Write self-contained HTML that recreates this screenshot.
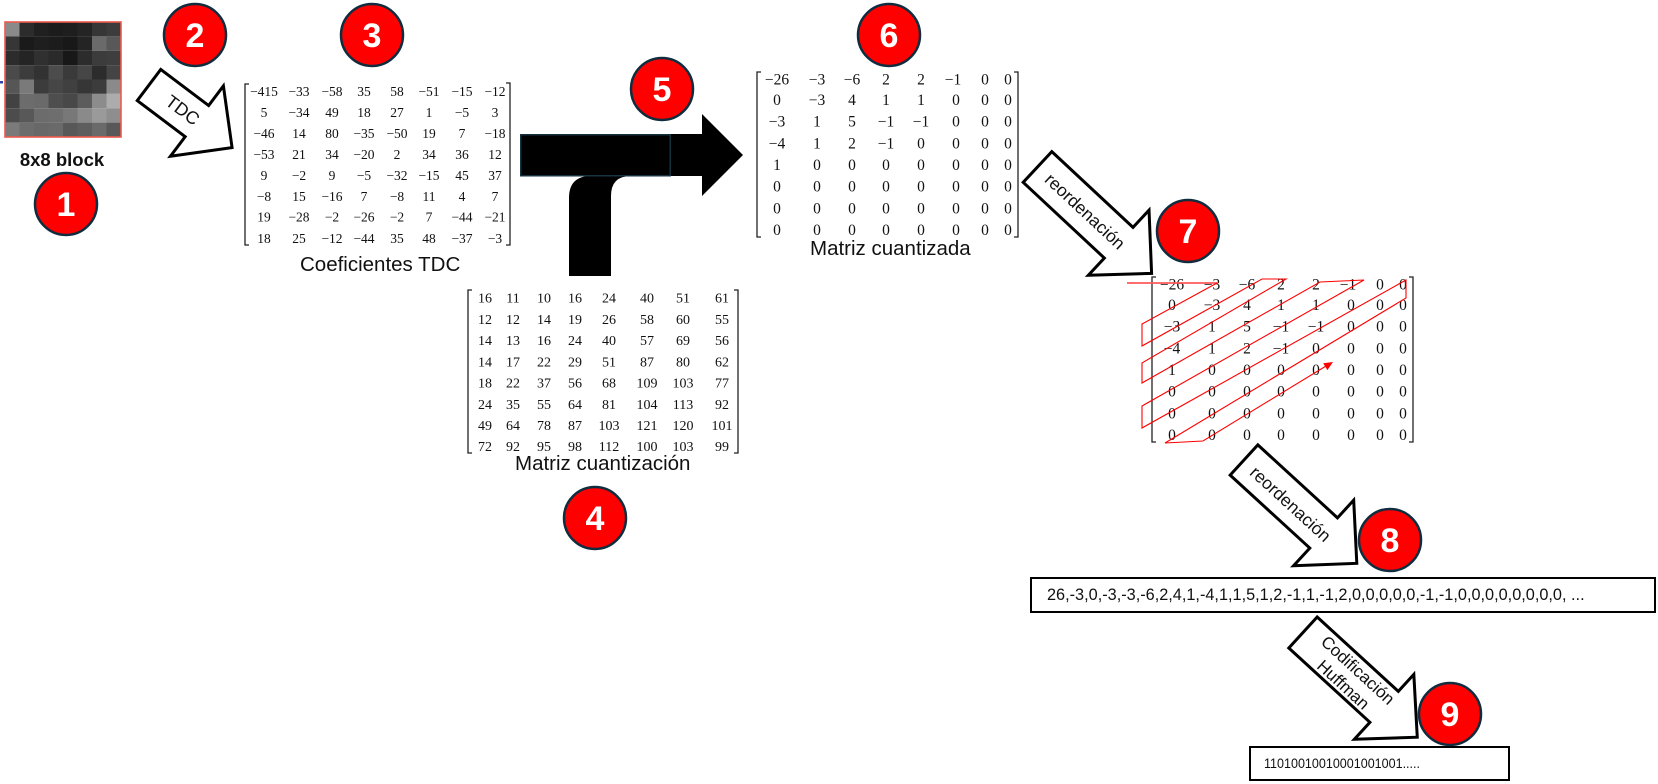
<!DOCTYPE html>
<html>
<head>
<meta charset="utf-8">
<style>
html,body{margin:0;padding:0;background:#fff;}
svg{display:block;}
.ser{font-family:"Liberation Serif",serif;fill:#111;}
.san{font-family:"Liberation Sans",sans-serif;fill:#111;}
.num{font-family:"Liberation Sans",sans-serif;font-weight:bold;fill:#fff;font-size:34px;}
</style>
</head>
<body>
<svg width="1658" height="784" viewBox="0 0 1658 784" xmlns="http://www.w3.org/2000/svg">
<rect width="1658" height="784" fill="#fff"/>

<!-- 8x8 block -->
<g>
<rect x="0" y="81" width="3" height="2.5" fill="#2a45a8"/>
<g transform="translate(5,22) scale(14.5,14.375)">
<rect x="0" y="0" width="1" height="1" fill="#8a8a8a"/><rect x="1" y="0" width="1" height="1" fill="#2c2c2c"/><rect x="2" y="0" width="1" height="1" fill="#202020"/><rect x="3" y="0" width="1" height="1" fill="#1c1c1c"/><rect x="4" y="0" width="1" height="1" fill="#1e1e1e"/><rect x="5" y="0" width="1" height="1" fill="#242424"/><rect x="6" y="0" width="1" height="1" fill="#363636"/><rect x="7" y="0" width="1" height="1" fill="#3c3c3c"/>
<rect x="0" y="1" width="1" height="1" fill="#363636"/><rect x="1" y="1" width="1" height="1" fill="#1a1a1a"/><rect x="2" y="1" width="1" height="1" fill="#1e1e1e"/><rect x="3" y="1" width="1" height="1" fill="#1c1c1c"/><rect x="4" y="1" width="1" height="1" fill="#181818"/><rect x="5" y="1" width="1" height="1" fill="#242424"/><rect x="6" y="1" width="1" height="1" fill="#6a6a6a"/><rect x="7" y="1" width="1" height="1" fill="#585858"/>
<rect x="0" y="2" width="1" height="1" fill="#2c2c2c"/><rect x="1" y="2" width="1" height="1" fill="#242424"/><rect x="2" y="2" width="1" height="1" fill="#303030"/><rect x="3" y="2" width="1" height="1" fill="#2a2a2a"/><rect x="4" y="2" width="1" height="1" fill="#181818"/><rect x="5" y="2" width="1" height="1" fill="#2c2c2c"/><rect x="6" y="2" width="1" height="1" fill="#3c3c3c"/><rect x="7" y="2" width="1" height="1" fill="#3e3e3e"/>
<rect x="0" y="3" width="1" height="1" fill="#4a4a4a"/><rect x="1" y="3" width="1" height="1" fill="#3c3c3c"/><rect x="2" y="3" width="1" height="1" fill="#323232"/><rect x="3" y="3" width="1" height="1" fill="#4c4c4c"/><rect x="4" y="3" width="1" height="1" fill="#3a3a3a"/><rect x="5" y="3" width="1" height="1" fill="#464646"/><rect x="6" y="3" width="1" height="1" fill="#2c2c2c"/><rect x="7" y="3" width="1" height="1" fill="#444444"/>
<rect x="0" y="4" width="1" height="1" fill="#565656"/><rect x="1" y="4" width="1" height="1" fill="#7a7a7a"/><rect x="2" y="4" width="1" height="1" fill="#3c3c3c"/><rect x="3" y="4" width="1" height="1" fill="#464646"/><rect x="4" y="4" width="1" height="1" fill="#404040"/><rect x="5" y="4" width="1" height="1" fill="#363636"/><rect x="6" y="4" width="1" height="1" fill="#3c3c3c"/><rect x="7" y="4" width="1" height="1" fill="#8a8a8a"/>
<rect x="0" y="5" width="1" height="1" fill="#424242"/><rect x="1" y="5" width="1" height="1" fill="#6c6c6c"/><rect x="2" y="5" width="1" height="1" fill="#6a6a6a"/><rect x="3" y="5" width="1" height="1" fill="#4e4e4e"/><rect x="4" y="5" width="1" height="1" fill="#484848"/><rect x="5" y="5" width="1" height="1" fill="#5c5c5c"/><rect x="6" y="5" width="1" height="1" fill="#8c8c8c"/><rect x="7" y="5" width="1" height="1" fill="#acacac"/>
<rect x="0" y="6" width="1" height="1" fill="#4c4c4c"/><rect x="1" y="6" width="1" height="1" fill="#585858"/><rect x="2" y="6" width="1" height="1" fill="#6c6c6c"/><rect x="3" y="6" width="1" height="1" fill="#6e6e6e"/><rect x="4" y="6" width="1" height="1" fill="#787878"/><rect x="5" y="6" width="1" height="1" fill="#8a8a8a"/><rect x="6" y="6" width="1" height="1" fill="#9a9a9a"/><rect x="7" y="6" width="1" height="1" fill="#8e8e8e"/>
<rect x="0" y="7" width="1" height="1" fill="#7a7a7a"/><rect x="1" y="7" width="1" height="1" fill="#6c6c6c"/><rect x="2" y="7" width="1" height="1" fill="#686868"/><rect x="3" y="7" width="1" height="1" fill="#6a6a6a"/><rect x="4" y="7" width="1" height="1" fill="#585858"/><rect x="5" y="7" width="1" height="1" fill="#5e5e5e"/><rect x="6" y="7" width="1" height="1" fill="#6a6a6a"/><rect x="7" y="7" width="1" height="1" fill="#585858"/>
</g>
<rect x="5" y="22" width="116" height="115" fill="none" stroke="#ec5a4c" stroke-width="1.6"/>
<text class="san" x="62" y="166" font-size="18.5" font-weight="bold" text-anchor="middle">8x8 block</text>
</g>

<!-- TDC arrow -->
<g transform="translate(149,85) rotate(37)">
<polygon points="0,-19.5 60,-19.5 60,-44 104,0 60,44 60,19.5 0,19.5" fill="#fff" stroke="#000" stroke-width="3" stroke-linejoin="miter"/>
<text class="san" x="42" y="6" font-size="18" text-anchor="middle">TDC</text>
</g>

<!-- Matrix 3: Coeficientes TDC -->
<g fill="none" stroke="#222" stroke-width="1.3">
<path d="M249,84 L245,84 L245,245 L249,245"/>
<path d="M506,83 L510,83 L510,245 L506,245"/>
</g>
<g class="ser" font-size="13.5" text-anchor="middle">
<text y="96.2"><tspan x="264">−415</tspan><tspan x="299">−33</tspan><tspan x="332">−58</tspan><tspan x="364">35</tspan><tspan x="397">58</tspan><tspan x="429">−51</tspan><tspan x="462">−15</tspan><tspan x="495">−12</tspan></text>
<text y="116.8"><tspan x="264">5</tspan><tspan x="299">−34</tspan><tspan x="332">49</tspan><tspan x="364">18</tspan><tspan x="397">27</tspan><tspan x="429">1</tspan><tspan x="462">−5</tspan><tspan x="495">3</tspan></text>
<text y="137.8"><tspan x="264">−46</tspan><tspan x="299">14</tspan><tspan x="332">80</tspan><tspan x="364">−35</tspan><tspan x="397">−50</tspan><tspan x="429">19</tspan><tspan x="462">7</tspan><tspan x="495">−18</tspan></text>
<text y="158.8"><tspan x="264">−53</tspan><tspan x="299">21</tspan><tspan x="332">34</tspan><tspan x="364">−20</tspan><tspan x="397">2</tspan><tspan x="429">34</tspan><tspan x="462">36</tspan><tspan x="495">12</tspan></text>
<text y="180.2"><tspan x="264">9</tspan><tspan x="299">−2</tspan><tspan x="332">9</tspan><tspan x="364">−5</tspan><tspan x="397">−32</tspan><tspan x="429">−15</tspan><tspan x="462">45</tspan><tspan x="495">37</tspan></text>
<text y="200.8"><tspan x="264">−8</tspan><tspan x="299">15</tspan><tspan x="332">−16</tspan><tspan x="364">7</tspan><tspan x="397">−8</tspan><tspan x="429">11</tspan><tspan x="462">4</tspan><tspan x="495">7</tspan></text>
<text y="221.5"><tspan x="264">19</tspan><tspan x="299">−28</tspan><tspan x="332">−2</tspan><tspan x="364">−26</tspan><tspan x="397">−2</tspan><tspan x="429">7</tspan><tspan x="462">−44</tspan><tspan x="495">−21</tspan></text>
<text y="242.8"><tspan x="264">18</tspan><tspan x="299">25</tspan><tspan x="332">−12</tspan><tspan x="364">−44</tspan><tspan x="397">35</tspan><tspan x="429">48</tspan><tspan x="462">−37</tspan><tspan x="495">−3</tspan></text>
</g>
<text class="san" x="300" y="271" font-size="20.5">Coeficientes TDC</text>

<!-- Matrix 4: Matriz cuantización -->
<g fill="none" stroke="#222" stroke-width="1.3">
<path d="M472,290 L468,290 L468,453 L472,453"/>
<path d="M734,290 L738,290 L738,453 L734,453"/>
</g>
<g class="ser" font-size="14" text-anchor="middle">
<text y="302.3"><tspan x="485">16</tspan><tspan x="513">11</tspan><tspan x="544">10</tspan><tspan x="575">16</tspan><tspan x="609">24</tspan><tspan x="647">40</tspan><tspan x="683">51</tspan><tspan x="722">61</tspan></text>
<text y="324"><tspan x="485">12</tspan><tspan x="513">12</tspan><tspan x="544">14</tspan><tspan x="575">19</tspan><tspan x="609">26</tspan><tspan x="647">58</tspan><tspan x="683">60</tspan><tspan x="722">55</tspan></text>
<text y="345"><tspan x="485">14</tspan><tspan x="513">13</tspan><tspan x="544">16</tspan><tspan x="575">24</tspan><tspan x="609">40</tspan><tspan x="647">57</tspan><tspan x="683">69</tspan><tspan x="722">56</tspan></text>
<text y="366.7"><tspan x="485">14</tspan><tspan x="513">17</tspan><tspan x="544">22</tspan><tspan x="575">29</tspan><tspan x="609">51</tspan><tspan x="647">87</tspan><tspan x="683">80</tspan><tspan x="722">62</tspan></text>
<text y="387.7"><tspan x="485">18</tspan><tspan x="513">22</tspan><tspan x="544">37</tspan><tspan x="575">56</tspan><tspan x="609">68</tspan><tspan x="647">109</tspan><tspan x="683">103</tspan><tspan x="722">77</tspan></text>
<text y="409"><tspan x="485">24</tspan><tspan x="513">35</tspan><tspan x="544">55</tspan><tspan x="575">64</tspan><tspan x="609">81</tspan><tspan x="647">104</tspan><tspan x="683">113</tspan><tspan x="722">92</tspan></text>
<text y="430"><tspan x="485">49</tspan><tspan x="513">64</tspan><tspan x="544">78</tspan><tspan x="575">87</tspan><tspan x="609">103</tspan><tspan x="647">121</tspan><tspan x="683">120</tspan><tspan x="722">101</tspan></text>
<text y="451"><tspan x="485">72</tspan><tspan x="513">92</tspan><tspan x="544">95</tspan><tspan x="575">98</tspan><tspan x="609">112</tspan><tspan x="647">100</tspan><tspan x="683">103</tspan><tspan x="722">99</tspan></text>
</g>
<text class="san" x="515" y="470" font-size="20.5">Matriz cuantización</text>

<!-- Black T arrow (5) -->
<g fill="#000">
<rect x="520" y="134" width="183" height="42"/>
<polygon points="702,114 743,155 702,196"/>
<path d="M569,276 L569,198 Q569,176 591,176 L631,176 Q611,176 611,196 L611,276 Z"/>
</g>
<rect x="520.75" y="134.75" width="149.5" height="41" fill="#000" stroke="#17323f" stroke-width="1.5"/>

<!-- Matrix 6: Matriz cuantizada -->
<g fill="none" stroke="#222" stroke-width="1.3">
<path d="M761,72 L757,72 L757,237 L761,237"/>
<path d="M1014,72 L1018,72 L1018,237 L1014,237"/>
</g>
<g class="ser" font-size="15.5" text-anchor="middle">
<text y="84.3"><tspan x="777">−26</tspan><tspan x="817">−3</tspan><tspan x="852">−6</tspan><tspan x="886">2</tspan><tspan x="921">2</tspan><tspan x="953">−1</tspan><tspan x="985">0</tspan><tspan x="1008">0</tspan></text>
<text y="105"><tspan x="777">0</tspan><tspan x="817">−3</tspan><tspan x="852">4</tspan><tspan x="886">1</tspan><tspan x="921">1</tspan><tspan x="956">0</tspan><tspan x="985">0</tspan><tspan x="1008">0</tspan></text>
<text y="126.7"><tspan x="777">−3</tspan><tspan x="817">1</tspan><tspan x="852">5</tspan><tspan x="886">−1</tspan><tspan x="921">−1</tspan><tspan x="956">0</tspan><tspan x="985">0</tspan><tspan x="1008">0</tspan></text>
<text y="148.3"><tspan x="777">−4</tspan><tspan x="817">1</tspan><tspan x="852">2</tspan><tspan x="886">−1</tspan><tspan x="921">0</tspan><tspan x="956">0</tspan><tspan x="985">0</tspan><tspan x="1008">0</tspan></text>
<text y="170"><tspan x="777">1</tspan><tspan x="817">0</tspan><tspan x="852">0</tspan><tspan x="886">0</tspan><tspan x="921">0</tspan><tspan x="956">0</tspan><tspan x="985">0</tspan><tspan x="1008">0</tspan></text>
<text y="191.7"><tspan x="777">0</tspan><tspan x="817">0</tspan><tspan x="852">0</tspan><tspan x="886">0</tspan><tspan x="921">0</tspan><tspan x="956">0</tspan><tspan x="985">0</tspan><tspan x="1008">0</tspan></text>
<text y="213.3"><tspan x="777">0</tspan><tspan x="817">0</tspan><tspan x="852">0</tspan><tspan x="886">0</tspan><tspan x="921">0</tspan><tspan x="956">0</tspan><tspan x="985">0</tspan><tspan x="1008">0</tspan></text>
<text y="235"><tspan x="777">0</tspan><tspan x="817">0</tspan><tspan x="852">0</tspan><tspan x="886">0</tspan><tspan x="921">0</tspan><tspan x="956">0</tspan><tspan x="985">0</tspan><tspan x="1008">0</tspan></text>
</g>
<text class="san" x="810" y="255" font-size="20.5">Matriz cuantizada</text>

<!-- reordenación arrow 1 -->
<g transform="translate(1037.5,167) rotate(43)">
<polygon points="0,-21 111,-21 111,-44.5 156,0 111,44.5 111,21 0,21" fill="#fff" stroke="#000" stroke-width="3" stroke-linejoin="miter"/>
<text class="san" x="65" y="6" font-size="17.5" text-anchor="middle">reordenación</text>
</g>

<!-- Matrix 7 (zigzag) -->
<g transform="translate(395,205)">
<g fill="none" stroke="#222" stroke-width="1.3">
<path d="M761,72 L757,72 L757,237 L761,237"/>
<path d="M1014,72 L1018,72 L1018,237 L1014,237"/>
</g>
<g class="ser" font-size="15.5" text-anchor="middle">
<text y="84.3"><tspan x="777">−26</tspan><tspan x="817">−3</tspan><tspan x="852">−6</tspan><tspan x="886">2</tspan><tspan x="921">2</tspan><tspan x="953">−1</tspan><tspan x="985">0</tspan><tspan x="1008">0</tspan></text>
<text y="105"><tspan x="777">0</tspan><tspan x="817">−3</tspan><tspan x="852">4</tspan><tspan x="886">1</tspan><tspan x="921">1</tspan><tspan x="956">0</tspan><tspan x="985">0</tspan><tspan x="1008">0</tspan></text>
<text y="126.7"><tspan x="777">−3</tspan><tspan x="817">1</tspan><tspan x="852">5</tspan><tspan x="886">−1</tspan><tspan x="921">−1</tspan><tspan x="956">0</tspan><tspan x="985">0</tspan><tspan x="1008">0</tspan></text>
<text y="148.3"><tspan x="777">−4</tspan><tspan x="817">1</tspan><tspan x="852">2</tspan><tspan x="886">−1</tspan><tspan x="921">0</tspan><tspan x="956">0</tspan><tspan x="985">0</tspan><tspan x="1008">0</tspan></text>
<text y="170"><tspan x="777">1</tspan><tspan x="817">0</tspan><tspan x="852">0</tspan><tspan x="886">0</tspan><tspan x="921">0</tspan><tspan x="956">0</tspan><tspan x="985">0</tspan><tspan x="1008">0</tspan></text>
<text y="191.7"><tspan x="777">0</tspan><tspan x="817">0</tspan><tspan x="852">0</tspan><tspan x="886">0</tspan><tspan x="921">0</tspan><tspan x="956">0</tspan><tspan x="985">0</tspan><tspan x="1008">0</tspan></text>
<text y="213.3"><tspan x="777">0</tspan><tspan x="817">0</tspan><tspan x="852">0</tspan><tspan x="886">0</tspan><tspan x="921">0</tspan><tspan x="956">0</tspan><tspan x="985">0</tspan><tspan x="1008">0</tspan></text>
<text y="235"><tspan x="777">0</tspan><tspan x="817">0</tspan><tspan x="852">0</tspan><tspan x="886">0</tspan><tspan x="921">0</tspan><tspan x="956">0</tspan><tspan x="985">0</tspan><tspan x="1008">0</tspan></text>
</g>
</g>
<line x1="1127" y1="283" x2="1217" y2="283" stroke="#f55" stroke-width="2" opacity="0.85"/>
<path d="M1217,283 L1142,324 L1142,346 L1262,279 L1286,279 L1142,363 L1142,383 L1320,282 L1364,280 L1142,406 L1142,428 L1406,280 L1406,298 L1165,443 L1203,441 L1326,366" fill="none" stroke="#f00" stroke-width="1.1" stroke-linejoin="miter"/>
<polygon points="1333,362 1327.4,370.1 1323.2,363.3" fill="#f00"/>

<!-- reordenación arrow 2 -->
<g transform="translate(1244,460) rotate(42.5)">
<polygon points="0,-20.5 108,-20.5 108,-44.5 153,0 108,44.5 108,20.5 0,20.5" fill="#fff" stroke="#000" stroke-width="3" stroke-linejoin="miter"/>
<text class="san" x="64" y="7" font-size="17.5" text-anchor="middle">reordenación</text>
</g>

<!-- Sequence box -->
<rect x="1031" y="578" width="624" height="34" fill="#fff" stroke="#000" stroke-width="2"/>
<text class="san" x="1047" y="600" font-size="16.3">26,-3,0,-3,-3,-6,2,4,1,-4,1,1,5,1,2,-1,1,-1,2,0,0,0,0,0,-1,-1,0,0,0,0,0,0,0,0, ...</text>

<!-- Huffman arrow -->
<g transform="translate(1303,632.5) rotate(42.5)">
<polygon points="0,-21 110,-21 110,-44 155,0 110,44 110,21 0,21" fill="#fff" stroke="#000" stroke-width="3" stroke-linejoin="miter"/>
<text class="san" x="66" y="-3.5" font-size="17" text-anchor="middle">Codificación</text>
<text class="san" x="65" y="17" font-size="17" text-anchor="middle">Huffman</text>
</g>

<!-- Huffman output box -->
<rect x="1250" y="747" width="259" height="33" fill="#fff" stroke="#000" stroke-width="2"/>
<text class="san" x="1264" y="768" font-size="14" textLength="156" lengthAdjust="spacingAndGlyphs">11010010010001001001.....</text>

<!-- Numbered circles -->
<g stroke="#0f2d3f" stroke-width="2.5" fill="#ff0000">
<circle cx="66" cy="204" r="31"/>
<circle cx="195" cy="35" r="31"/>
<circle cx="372" cy="35" r="31"/>
<circle cx="595" cy="518" r="31"/>
<circle cx="662" cy="89" r="31"/>
<circle cx="889" cy="35" r="31"/>
<circle cx="1188" cy="231" r="31"/>
<circle cx="1390" cy="540" r="31"/>
<circle cx="1450" cy="714" r="31"/>
</g>
<g class="num" text-anchor="middle">
<text x="66" y="216">1</text>
<text x="195" y="47">2</text>
<text x="372" y="47">3</text>
<text x="595" y="530">4</text>
<text x="662" y="101">5</text>
<text x="889" y="47">6</text>
<text x="1188" y="243">7</text>
<text x="1390" y="552">8</text>
<text x="1450" y="726">9</text>
</g>
</svg>
</body>
</html>
